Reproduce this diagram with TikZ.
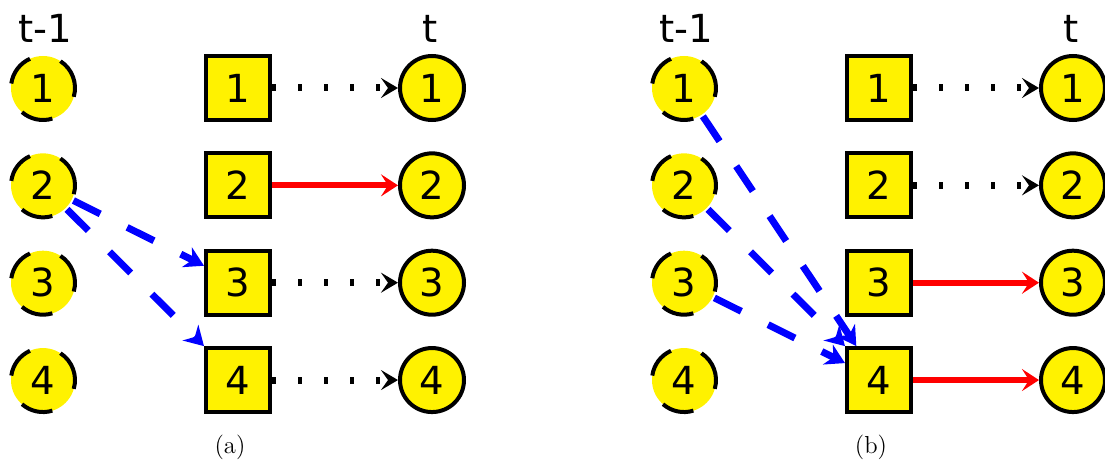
\documentclass[tikz,border=0pt]{standalone}
\usepackage{fontspec}
\setsansfont{DejaVu Sans}
\usetikzlibrary{arrows.meta}

\tikzset{
    prev/.style={circle, fill=yellow, minimum size=1.28cm, inner sep=0pt, outer sep=0.04cm,
        font=\sffamily\fontsize{22}{26}\selectfont},
    prevarc/.style={line width=0.08cm},
    cur/.style={circle, draw, fill=yellow, line width=0.08cm, minimum size=1.28cm, inner sep=0pt,
        font=\sffamily\fontsize{22}{26}\selectfont},
    obj/.style={rectangle, draw, fill=yellow, line width=0.08cm, minimum size=1.28cm, inner sep=0pt,
        font=\sffamily\fontsize{22}{26}\selectfont},
    keep/.style={line width=0.14cm, dash pattern=on 0.07cm off 0.45cm, -{Stealth[length=0.34cm, width=0.4cm, inset=0.14cm]}},
    match/.style={red, line width=0.12cm, -{Stealth[length=0.34cm, width=0.44cm, inset=0.14cm]}},
    assoc/.style={blue, line width=0.14cm, dash pattern=on 0.6cm off 0.6cm, -{Stealth[length=0.38cm, width=0.44cm, inset=0.12cm]}},
    timelabel/.style={anchor=base, font=\sffamily\fontsize{22}{26}\selectfont},
}

\begin{document}
\begin{tikzpicture}
    \useasboundingbox (0,0) rectangle (22.1,9.2);
    % Both panels
    \foreach \p/\dx in {a/0, b/12.82} {
        \foreach \i in {1,2,3,4} {
            \node[prev] (\p-p\i) at (0.86+\dx, 7.44-\i*1.947+1.947) {\i};
            % broken outline of the previous frame
            \foreach \sa/\ea in {-16/57, 114/172, 229/287}
                \draw[prevarc] (\p-p\i.center) ++(\sa:0.64) arc[start angle=\sa, end angle=\ea, radius=0.64];
            \node[obj] (\p-s\i) at (4.76+\dx, 7.44-\i*1.947+1.947) {\i};
            \node[cur] (\p-c\i) at (8.64+\dx, 7.44-\i*1.947+1.947) {\i};
        }
        \node[timelabel] (\p-prevlabel) at (0.9+\dx, 8.34) {t-1};
        \node[timelabel] (\p-curlabel) at (8.6+\dx, 8.34) {t};
    }
    
    % Captions
    \node[font=\fontsize{14}{16}\selectfont] (capa) at (4.6, 0.26) {(a)};
    \node[font=\fontsize{14}{16}\selectfont] (capb) at (17.42, 0.26) {(b)};
    
    % Panel (a) connections
    \draw[keep] (a-s1) -- (a-c1);
    \draw[match] (a-s2) -- (a-c2);
    \draw[keep] (a-s3) -- (a-c3);
    \draw[keep] (a-s4) -- (a-c4);
    \draw[assoc] (a-p2) -- (a-s3);
    \draw[assoc] (a-p2) -- (a-s4);
    
    % Panel (b) connections
    \draw[keep] (b-s1) -- (b-c1);
    \draw[keep] (b-s2) -- (b-c2);
    \draw[match] (b-s3) -- (b-c3);
    \draw[match] (b-s4) -- (b-c4);
    \draw[assoc] (b-p1) -- (b-s4);
    \draw[assoc] (b-p2) -- (b-s4);
    \draw[assoc] (b-p3) -- (b-s4);
\end{tikzpicture}
\end{document}
